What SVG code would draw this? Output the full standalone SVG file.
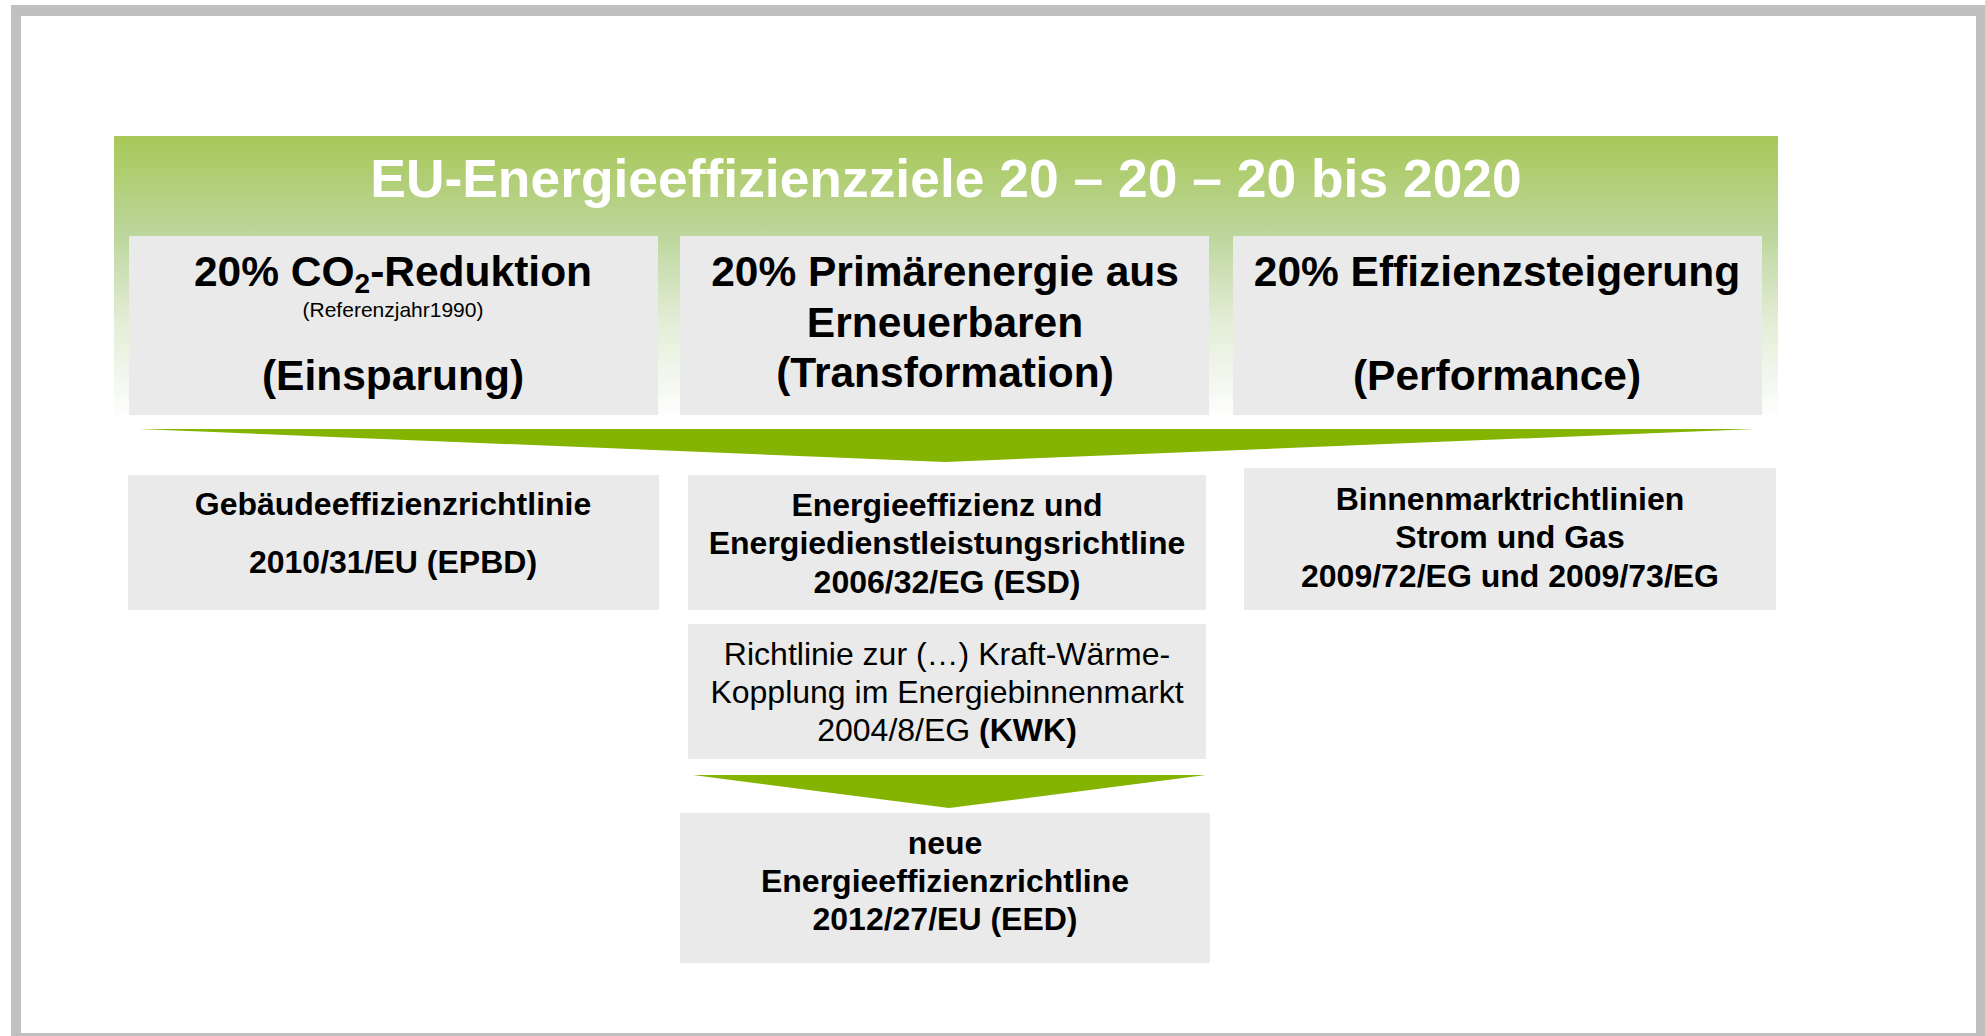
<svg xmlns="http://www.w3.org/2000/svg" width="1985" height="1036" viewBox="0 0 1985 1036">
<defs>
<linearGradient id="hdr" x1="0" y1="0" x2="0" y2="1">
<stop offset="0" stop-color="#a8c858"/>
<stop offset="0.35" stop-color="#bdd69c"/>
<stop offset="0.65" stop-color="#e2edd6"/>
<stop offset="1" stop-color="#ffffff"/>
</linearGradient>
<style>
.card{fill:#eaeaea}
.t{font-family:"Liberation Sans",Arial,sans-serif;fill:#000;text-anchor:middle}
.b{font-weight:bold}
.big{font-size:42.5px}
.mid{font-size:32px}
.arrow{fill:#84b400}
</style>
</defs>
<rect x="0" y="0" width="1985" height="1036" fill="#ffffff"/>
<rect x="11" y="5" width="1974" height="1031" fill="#c0c0c0"/>
<rect x="21" y="16" width="1955" height="1017" fill="#ffffff"/>

<g id="header">
<rect x="114" y="136" width="1664" height="284" fill="url(#hdr)"/>
<text x="946" y="197" class="t b" style="font-size:53.4px;fill:#fff">EU-Energieeffizienzziele 20 – 20 – 20 bis 2020</text>
</g>

<g id="goal-co2">
<rect x="129" y="236" width="529" height="179" class="card"/>
<text x="393" y="286" class="t b big">20% CO<tspan style="font-size:28px" dy="7">2</tspan><tspan dy="-7">-Reduktion</tspan></text>
<text x="393" y="317" class="t" style="font-size:21px">(Referenzjahr1990)</text>
<text x="393" y="390" class="t b big">(Einsparung)</text>
</g>

<g id="goal-renew">
<rect x="680" y="236" width="529" height="179" class="card"/>
<text x="945" y="286" class="t b big">20% Primärenergie aus</text>
<text x="945" y="337" class="t b big">Erneuerbaren</text>
<text x="945" y="387" class="t b big">(Transformation)</text>
</g>

<g id="goal-eff">
<rect x="1233" y="236" width="529" height="179" class="card"/>
<text x="1497" y="286" class="t b big">20% Effizienzsteigerung</text>
<text x="1497" y="390" class="t b big">(Performance)</text>
</g>

<g id="connectors">
<polygon class="arrow" points="139,429 1755,429 945,462"/>
<polygon class="arrow" points="693,775 1206,775 949,808"/>
</g>

<g id="epbd">
<rect x="128" y="475" width="531" height="135" class="card"/>
<text x="393" y="515" class="t b mid">Gebäudeeffizienzrichtlinie</text>
<text x="393" y="573" class="t b mid">2010/31/EU (EPBD)</text>
</g>

<g id="esd">
<rect x="688" y="475" width="518" height="135" class="card"/>
<text x="947" y="515.5" class="t b mid">Energieeffizienz und</text>
<text x="947" y="553.5" class="t b mid">Energiedienstleistungsrichtline</text>
<text x="947" y="592.5" class="t b mid">2006/32/EG (ESD)</text>
</g>

<g id="binnen">
<rect x="1244" y="468" width="532" height="142" class="card"/>
<text x="1510" y="509.5" class="t b mid">Binnenmarktrichtlinien</text>
<text x="1510" y="547.5" class="t b mid">Strom und Gas</text>
<text x="1510" y="586.5" class="t b mid">2009/72/EG und 2009/73/EG</text>
</g>

<g id="kwk">
<rect x="688" y="624" width="518" height="135" class="card"/>
<text x="947" y="664.5" class="t mid">Richtlinie zur (…) Kraft-Wärme-</text>
<text x="947" y="702.5" class="t mid">Kopplung im Energiebinnenmarkt</text>
<text x="947" y="740.5" class="t mid">2004/8/EG <tspan class="b">(KWK)</tspan></text>
</g>

<g id="eed">
<rect x="680" y="813" width="530" height="150" class="card"/>
<text x="945" y="853.5" class="t b mid">neue</text>
<text x="945" y="891.5" class="t b mid">Energieeffizienzrichtline</text>
<text x="945" y="929.5" class="t b mid">2012/27/EU (EED)</text>
</g>
</svg>
